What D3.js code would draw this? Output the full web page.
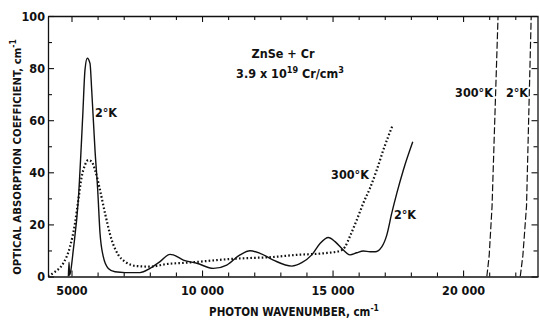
<!DOCTYPE html>
<html>
<head>
<meta charset="utf-8">
<script src="https://cdn.jsdelivr.net/npm/d3@7"></script>
<style>
  body { margin: 0; background: #fff; }
  text { font-family: "Liberation Sans Narrow", "Arial Narrow", "DejaVu Sans Condensed", sans-serif; font-weight: bold; fill: #111; }
</style>
</head>
<body>
<svg id="chart" width="539" height="322"></svg>
<script>
// Tick positions and labels
const xTickValues = d3.range(5000, 23000, 1000);
const xTickLabels = { 5000: "5000", 10000: "10 000", 15000: "15 000", 20000: "20 000" };
const yTickValues = d3.range(0, 101, 10);
const yTickLabels = [0, 20, 40, 60, 80, 100];

// Absorption spectrum, 2 °K  [wavenumber cm^-1, alpha cm^-1]
const low2K = [
  [4880, 0], [4905, 5.5], [4925, 0.5], [4960, 1.5], [5069, 10.2], [5261, 29.4], [5429, 61.3],
  [5517, 79.3], [5605, 83.8], [5709, 81.8], [5774, 71.6], [5900, 48.6], [6004, 33.2],
  [6092, 16.7], [6218, 7.6], [6410, 3.1], [6667, 1.8], [7050, 1.5], [7625, 1.5], [8008, 3.1],
  [8391, 5.7], [8774, 8.5], [8900, 8.3], [9284, 6.3], [9797, 5.1], [10433, 3.1], [10946, 4.4],
  [11456, 8.3], [11839, 9.9], [12222, 8.9], [12732, 6.3], [13437, 4.0], [13820, 5.3],
  [14203, 8.3], [14521, 12.7], [14839, 15.0], [15096, 13.4], [15414, 10.2], [15670, 8.3],
  [15927, 9.1], [16180, 9.8], [16437, 9.5], [16628, 9.5], [16885, 11.4], [17077, 15.9],
  [17268, 24.3], [17460, 31.9], [17713, 40.9], [18073, 51.7]
];

// Absorption spectrum, 300 °K
const room300K = [
  [4100, 0.2], [4368, 1.8], [4686, 5.1], [4943, 11.4], [5134, 20.4], [5261, 29.4], [5391, 38.3],
  [5517, 42.8], [5644, 44.7], [5774, 44.1], [5900, 40.9], [6092, 33.2], [6284, 24.3],
  [6540, 14.0], [6793, 8.3], [7050, 5.7], [7498, 4.0], [8008, 3.8], [8648, 4.8], [9414, 5.3],
  [9923, 5.7], [10563, 6.3], [11199, 6.8], [11839, 7.1], [12605, 7.4], [13628, 8.3],
  [14648, 8.9], [15287, 9.8], [15479, 11.4], [15670, 15.5], [15927, 21.7], [16180, 28.2],
  [16437, 34.0], [16693, 40.9], [16946, 48.6], [17291, 57.8]
];

// Fundamental absorption edges (host crystal)
const edge300K = [[20910, 0], [21000, 8], [21110, 27], [21340, 100]];
const edge2K = [[22190, 0], [22290, 8], [22430, 27], [22610, 100]];

const svg = d3.select("#chart");
const W = 539, H = 322;
const margin = { left: 48, right: 1, top: 16, bottom: 45.5 };

const x = d3.scaleLinear().domain([4100, 22870]).range([margin.left, W - margin.right]);
const y = d3.scaleLinear().domain([0, 100]).range([H - margin.bottom, margin.top]);

svg.append("defs").append("clipPath").attr("id", "plot")
  .append("rect")
  .attr("x", x.range()[0]).attr("y", y.range()[1] - 1)
  .attr("width", x.range()[1] - x.range()[0]).attr("height", y.range()[0] - y.range()[1] + 1);

// Axes with inward ticks
const fmtX = d => xTickLabels[d] || "";
const fmtY = d => yTickLabels.includes(d) ? String(d) : "";

const gB = svg.append("g").attr("transform", `translate(0,${y(0)})`)
  .call(d3.axisBottom(x).tickValues(xTickValues).tickSize(-4).tickSizeOuter(0).tickPadding(10).tickFormat(fmtX));
const gT = svg.append("g").attr("transform", `translate(0,${y(100)})`)
  .call(d3.axisTop(x).tickValues(xTickValues).tickSize(-4).tickSizeOuter(0).tickFormat(""));
const gL = svg.append("g").attr("transform", `translate(${x(4100)},0)`)
  .call(d3.axisLeft(y).tickValues(yTickValues).tickSize(-4).tickSizeOuter(0).tickPadding(3).tickFormat(fmtY));
const gR = svg.append("g").attr("transform", `translate(${x(22870) - 0.5},0)`)
  .call(d3.axisRight(y).tickValues(yTickValues).tickSize(-4).tickSizeOuter(0).tickFormat(""));

[gB, gT, gL, gR].forEach(g => {
  g.select(".domain").attr("stroke", "#111").attr("stroke-width", 1.3);
  g.selectAll(".tick line").attr("stroke", "#111").attr("stroke-width", 1.1);
  g.selectAll(".tick text").style("font-size", "12.5px").attr("fill", "#111");
});
// longer ticks at labelled positions
gB.selectAll(".tick line").attr("y2", d => d % 5000 === 0 ? -6 : -4);
gT.selectAll(".tick line").attr("y2", d => d % 5000 === 0 ? 6 : 4);
gL.selectAll(".tick line").attr("x2", d => d % 20 === 0 ? 6 : 4);
gR.selectAll(".tick line").attr("x2", d => d % 20 === 0 ? -6 : -4);

// Curves
const plot = svg.append("g").attr("clip-path", "url(#plot)");
const smooth = d3.line().x(d => x(d[0])).y(d => y(d[1])).curve(d3.curveMonotoneX);
const straight = d3.line().x(d => x(d[0])).y(d => y(d[1]));

plot.append("path").datum(room300K).attr("d", smooth)
  .attr("fill", "none").attr("stroke", "#111").attr("stroke-width", 2.2)
  .attr("stroke-dasharray", "1.6,2.2");
plot.append("path").datum(low2K).attr("d", smooth)
  .attr("fill", "none").attr("stroke", "#111").attr("stroke-width", 1.4);
[edge300K, edge2K].forEach(e => {
  plot.append("path").datum(e).attr("d", straight)
    .attr("fill", "none").attr("stroke", "#111").attr("stroke-width", 1.2)
    .attr("stroke-dasharray", "7,2.5");
});

// Curve labels
const labels = [
  { t: "2°K", x: 106, y: 117 },
  { t: "300°K", x: 350, y: 179 },
  { t: "2°K", x: 405, y: 219 },
  { t: "300°K", x: 474, y: 97 },
  { t: "2°K", x: 517, y: 97 }
];
svg.selectAll("text.lbl").data(labels).join("text").attr("class", "lbl")
  .attr("x", d => d.x).attr("y", d => d.y).attr("text-anchor", "middle")
  .style("font-size", "12.5px").text(d => d.t);

// Sample annotation
svg.append("text").attr("x", 283).attr("y", 58).attr("text-anchor", "middle")
  .style("font-size", "12.5px").text("ZnSe + Cr");
const note = svg.append("text").attr("x", 290).attr("y", 78).attr("text-anchor", "middle")
  .style("font-size", "12.5px");
note.append("tspan").text("3.9 x 10");
note.append("tspan").attr("dy", -5).style("font-size", "9px").text("19");
note.append("tspan").attr("dy", 5).text(" Cr/cm");
note.append("tspan").attr("dy", -5).style("font-size", "9px").text("3");

// Axis titles
const xt = svg.append("text").attr("x", 294).attr("y", 316).attr("text-anchor", "middle")
  .style("font-size", "11.5px");
xt.append("tspan").text("PHOTON WAVENUMBER, cm");
xt.append("tspan").attr("dy", -5).style("font-size", "8.5px").text("-1");

const yt = svg.append("text").attr("transform", "translate(21,157) rotate(-90)")
  .attr("text-anchor", "middle").style("font-size", "11.3px");
yt.append("tspan").text("OPTICAL ABSORPTION COEFFICIENT, cm");
yt.append("tspan").attr("dy", -5).style("font-size", "8.5px").text("-1");
</script>
</body>
</html>
